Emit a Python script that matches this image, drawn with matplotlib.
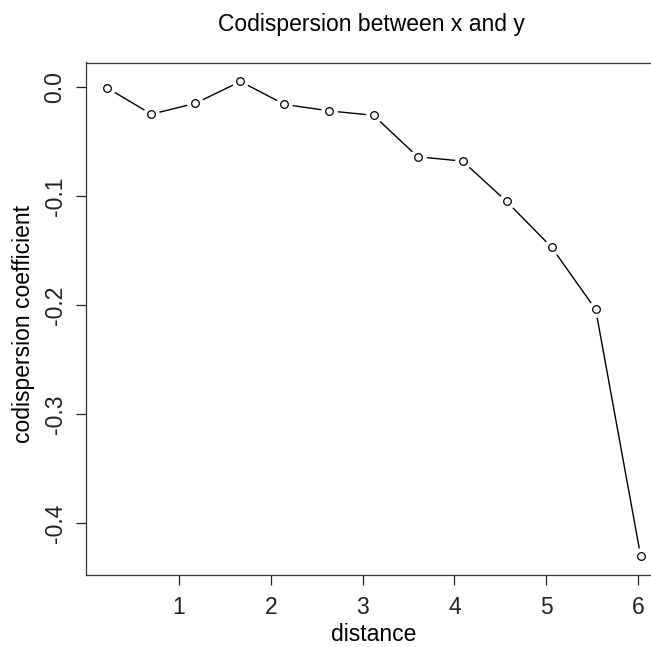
import numpy as np
import matplotlib
matplotlib.use("Agg")
import matplotlib.pyplot as plt

plt.rcParams['font.family'] = ['Liberation Sans', 'DejaVu Sans']
plt.rcParams['axes.unicode_minus'] = False

# values
distance = [0.22, 0.70, 1.18, 1.67, 2.15, 2.64, 3.12, 3.60, 4.09, 4.57, 5.06, 5.54, 6.03]
codisp = [-0.001, -0.025, -0.015, 0.005, -0.016, -0.022, -0.026,
          -0.064, -0.068, -0.105, -0.147, -0.204, -0.430]
xticks = [1, 2, 3, 4, 5, 6]
yticks = [0.0, -0.1, -0.2, -0.3, -0.4]
ytick_labels = ["0.0", "-0.1", "-0.2", "-0.3", "-0.4"]

W, H = 651, 647
fs = 16.5

fig = plt.figure(figsize=(W / 100, H / 100), dpi=100)
# right edge runs slightly past the picture, as in the reference
ax = fig.add_axes([86 / W, 72 / H, 576 / W, 512.5 / H])

# type="b": line with gaps round the points
ax.plot(distance, codisp, color='black', lw=1)
ax.plot(distance, codisp, ls='none', marker='o', ms=11, mfc='white', mec='white')
ax.plot(distance, codisp, ls='none', marker='o', ms=5.5, mfc='white', mec='black', mew=0.9)

x_span = max(distance) - min(distance)
y_span = max(codisp) - min(codisp)
ax.set_xlim(min(distance) - 0.04 * x_span, max(distance) + 0.04 * x_span)
ax.set_ylim(min(codisp) - 0.04 * y_span, max(codisp) + 0.04 * y_span)

ax.set_xticks(xticks)
ax.set_xticklabels([str(t) for t in xticks])
ax.set_yticks(yticks)
ax.set_yticklabels(ytick_labels, rotation=90, va='center')
ax.tick_params(direction='out', length=7, width=0.9, labelsize=fs, colors='#222222')
ax.tick_params(axis='x', pad=8)
ax.tick_params(axis='y', pad=7)
for sp in ax.spines.values():
    sp.set_linewidth(0.9)
    sp.set_color('#333333')

fig.text(374 / W, 1 - 641 / H, 'distance', fontsize=fs, ha='center', va='baseline')
fig.text(24 / W, 1 - 324 / H, 'codispersion coefficient', fontsize=fs,
         rotation=90, ha='center', va='center')
fig.text(371 / W, 1 - 31 / H, 'Codispersion between x and y', fontsize=fs,
         ha='center', va='baseline')

fig.savefig('out.png', dpi=100)
